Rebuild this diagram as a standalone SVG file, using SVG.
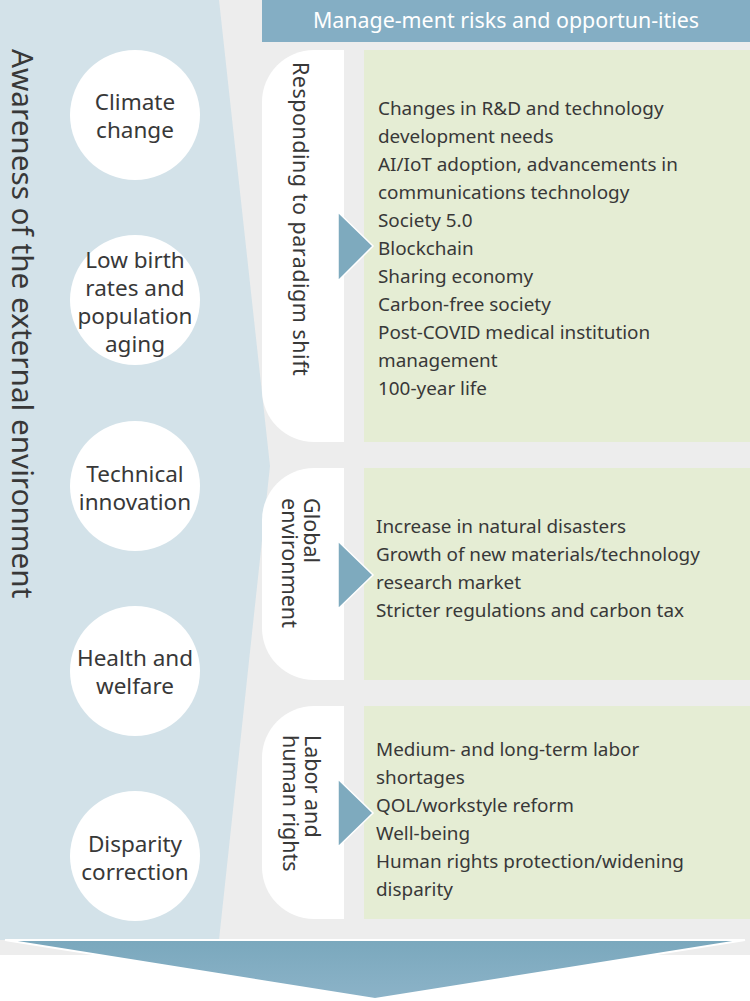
<svg xmlns="http://www.w3.org/2000/svg" width="750" height="1001" viewBox="0 0 750 1001">
  <defs>
    <style>
      text { font-family: "Noto Sans", "Open Sans", sans-serif; fill: #383838; }
      .circ { fill: #ffffff; }
      .ctext { font-size: 22.5px; text-anchor: middle; }
      .label { fill: #ffffff; }
      .ltext { font-size: 21.5px; }
      .green { fill: #e5edd4; }
      .gtext { font-size: 18.9px; }
      .tri { fill: #7eaabe; stroke: #ffffff; stroke-width: 1.5; }
    </style>
    <linearGradient id="arrowGrad" x1="0" y1="0" x2="0" y2="1">
      <stop offset="0" stop-color="#7aa8bd"/>
      <stop offset="1" stop-color="#8cb3c8"/>
    </linearGradient>
  </defs>

  <!-- backgrounds -->
  <rect x="0" y="0" width="750" height="955" fill="#ededed"/>
  <g id="external-panel">
    <polygon points="0,0 219,0 270,466 219,940 0,940" fill="#d3e2e9"/>
    <text transform="translate(12,49) rotate(90)" font-size="29.7">Awareness of the external environment</text>
  </g>

  <!-- circles -->
  <g id="climate">
    <circle class="circ" cx="135" cy="115" r="65"/>
    <text class="ctext" x="135" y="110">Climate</text>
    <text class="ctext" x="135" y="138">change</text>
  </g>
  <g id="birthrate">
    <circle class="circ" cx="135" cy="300" r="65"/>
    <text class="ctext" x="135" y="268">Low birth</text>
    <text class="ctext" x="135" y="296">rates and</text>
    <text class="ctext" x="135" y="324">population</text>
    <text class="ctext" x="135" y="352">aging</text>
  </g>
  <g id="technical">
    <circle class="circ" cx="135" cy="486" r="65"/>
    <text class="ctext" x="135" y="482">Technical</text>
    <text class="ctext" x="135" y="510">innovation</text>
  </g>
  <g id="health">
    <circle class="circ" cx="135" cy="671" r="65"/>
    <text class="ctext" x="135" y="666">Health and</text>
    <text class="ctext" x="135" y="694">welfare</text>
  </g>
  <g id="disparity">
    <circle class="circ" cx="135" cy="856" r="65"/>
    <text class="ctext" x="135" y="852">Disparity</text>
    <text class="ctext" x="135" y="880">correction</text>
  </g>

  <!-- header -->
  <g id="header">
    <rect x="262" y="0" width="488" height="42" fill="#84aec4"/>
    <text x="506" y="28" font-size="21.4" text-anchor="middle" style="fill:#ffffff">Manage-ment risks and opportun-ities</text>
  </g>

  <!-- category labels -->
  <g id="paradigm">
    <path class="label" d="M344,50 V442 H314 A52,52 0 0 1 262,390 V102 A52,52 0 0 1 314,50 Z"/>
    <text class="ltext" transform="translate(293,62) rotate(90)" letter-spacing="0.5">Responding to paradigm shift</text>
  </g>
  <g id="global">
    <path class="label" d="M344,468 V680 H314 A52,52 0 0 1 262,628 V520 A52,52 0 0 1 314,468 Z"/>
    <text class="ltext" transform="translate(304,498) rotate(90)">Global</text>
    <text class="ltext" transform="translate(282,498) rotate(90)">environment</text>
  </g>
  <g id="labor">
    <path class="label" d="M344,706 V919 H314 A52,52 0 0 1 262,867 V758 A52,52 0 0 1 314,706 Z"/>
    <text class="ltext" transform="translate(305,735) rotate(90)">Labor and</text>
    <text class="ltext" transform="translate(283,735) rotate(90)">human rights</text>
  </g>

  <!-- detail boxes -->
  <g id="paradigm-details">
    <rect class="green" x="364" y="50" width="386" height="392"/>
    <text class="gtext" x="378" y="115">Changes in R&amp;D and technology</text>
    <text class="gtext" x="378" y="143">development needs</text>
    <text class="gtext" x="378" y="171">AI/IoT adoption, advancements in</text>
    <text class="gtext" x="378" y="199">communications technology</text>
    <text class="gtext" x="378" y="227">Society 5.0</text>
    <text class="gtext" x="378" y="255">Blockchain</text>
    <text class="gtext" x="378" y="283">Sharing economy</text>
    <text class="gtext" x="378" y="311">Carbon-free society</text>
    <text class="gtext" x="378" y="339">Post-COVID medical institution</text>
    <text class="gtext" x="378" y="367">management</text>
    <text class="gtext" x="378" y="395">100-year life</text>
  </g>
  <g id="global-details">
    <rect class="green" x="364" y="468" width="386" height="212"/>
    <text class="gtext" x="376" y="533">Increase in natural disasters</text>
    <text class="gtext" x="376" y="561">Growth of new materials/technology</text>
    <text class="gtext" x="376" y="589">research market</text>
    <text class="gtext" x="376" y="617">Stricter regulations and carbon tax</text>
  </g>
  <g id="labor-details">
    <rect class="green" x="364" y="706" width="386" height="213"/>
    <text class="gtext" x="376" y="756">Medium- and long-term labor</text>
    <text class="gtext" x="376" y="784">shortages</text>
    <text class="gtext" x="376" y="812">QOL/workstyle reform</text>
    <text class="gtext" x="376" y="840">Well-being</text>
    <text class="gtext" x="376" y="868">Human rights protection/widening</text>
    <text class="gtext" x="376" y="896">disparity</text>
  </g>

  <!-- connectors -->
  <g id="connectors">
    <polygon class="tri" points="338,212 373,246 338,281"/>
    <polygon class="tri" points="338,541 373,575 338,609"/>
    <polygon class="tri" points="338,779 373,813 338,847"/>
    <polygon points="5,940 745,940 375,999" fill="url(#arrowGrad)" stroke="#ffffff" stroke-width="2" stroke-linejoin="miter"/>
  </g>
</svg>
